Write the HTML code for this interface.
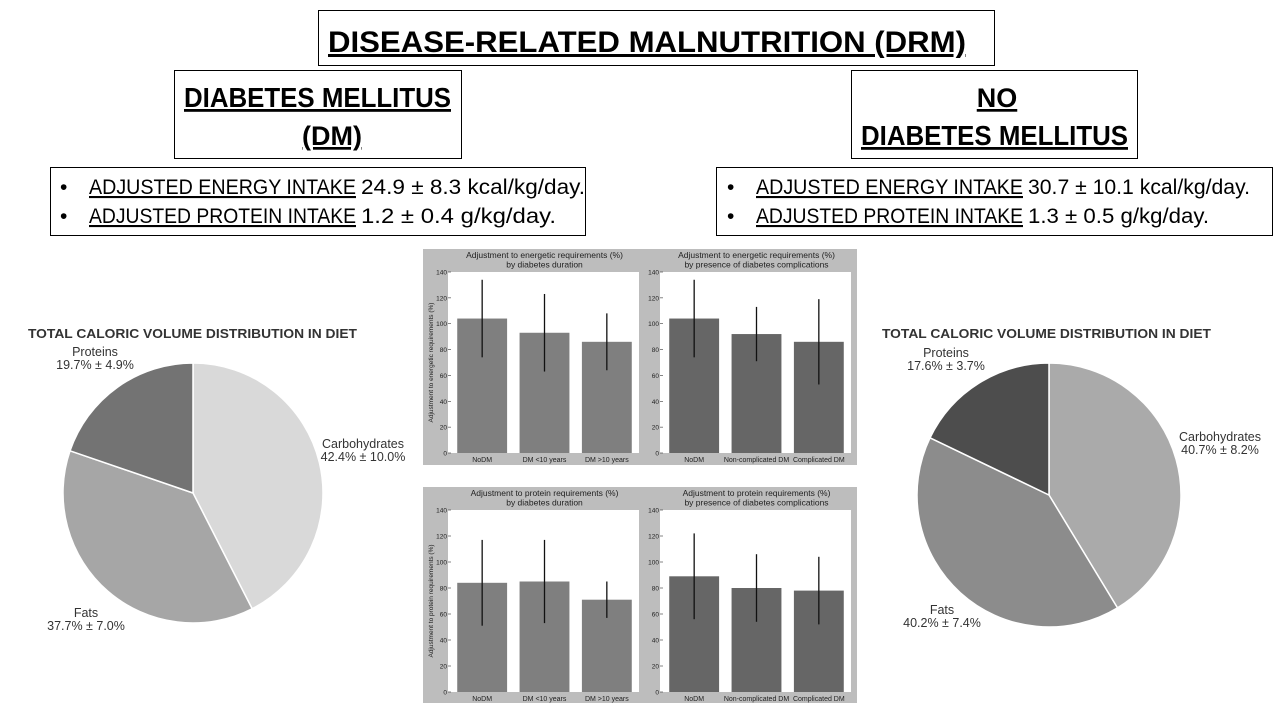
<!DOCTYPE html>
<html><head><meta charset="utf-8"><style>
body{margin:0;background:#fff;}
svg{display:block;font-family:"Liberation Sans",sans-serif;}
</style></head><body>
<svg id="s" width="1280" height="720" viewBox="0 0 1280 720">
<rect width="1280" height="720" fill="#fff"/>
<g>
<rect x="318.5" y="10.5" width="676" height="55" fill="none" stroke="#000"/>
<text x="328" y="52" font-size="30" font-weight="bold" textLength="638" lengthAdjust="spacingAndGlyphs" text-decoration="underline">DISEASE-RELATED  MALNUTRITION  (DRM)</text>
</g>
<g>
<rect x="174.5" y="70.5" width="287" height="88" fill="none" stroke="#000"/>
<text x="184" y="107" font-size="28" font-weight="bold" textLength="267" lengthAdjust="spacingAndGlyphs" text-decoration="underline">DIABETES MELLITUS</text>
<text x="332" y="145" font-size="27" font-weight="bold" text-anchor="middle" text-decoration="underline">(DM)</text>
</g>
<g>
<rect x="851.5" y="70.5" width="286" height="88" fill="none" stroke="#000"/>
<text x="997" y="107" font-size="27" font-weight="bold" text-anchor="middle" text-decoration="underline">NO</text>
<text x="861" y="145" font-size="28" font-weight="bold" textLength="267" lengthAdjust="spacingAndGlyphs" text-decoration="underline">DIABETES MELLITUS</text>
</g>
<g font-size="21">
<rect x="50.5" y="167.5" width="535" height="68" fill="none" stroke="#000"/>
<text x="60" y="194">•</text><text x="60" y="223">•</text>
<text x="89" y="194" textLength="267" lengthAdjust="spacingAndGlyphs" text-decoration="underline">ADJUSTED ENERGY INTAKE</text>
<text x="361" y="194" textLength="224" lengthAdjust="spacingAndGlyphs">24.9 ± 8.3 kcal/kg/day.</text>
<text x="89" y="223" textLength="267" lengthAdjust="spacingAndGlyphs" text-decoration="underline">ADJUSTED PROTEIN INTAKE</text>
<text x="361" y="223" textLength="195" lengthAdjust="spacingAndGlyphs">1.2 ± 0.4 g/kg/day.</text>
</g>
<g font-size="21">
<rect x="716.5" y="167.5" width="556" height="68" fill="none" stroke="#000"/>
<text x="727" y="194">•</text><text x="727" y="223">•</text>
<text x="756" y="194" textLength="267" lengthAdjust="spacingAndGlyphs" text-decoration="underline">ADJUSTED ENERGY INTAKE</text>
<text x="1028" y="194" textLength="222" lengthAdjust="spacingAndGlyphs">30.7 ± 10.1 kcal/kg/day.</text>
<text x="756" y="223" textLength="267" lengthAdjust="spacingAndGlyphs" text-decoration="underline">ADJUSTED PROTEIN INTAKE</text>
<text x="1028" y="223" textLength="181" lengthAdjust="spacingAndGlyphs">1.3 ± 0.5 g/kg/day.</text>
</g>
<g id="charts"></g>
</svg>
<script>
const pieLabels=["Carbohydrates","Fats","Proteins"];
const pieDM=[42.4,37.7,19.7];
const pieDMsd=[10.0,7.0,4.9];
const pieNoDM=[40.7,40.2,17.6];
const pieNoDMsd=[8.2,7.4,3.7];
const catsDur=["NoDM","DM <10 years","DM >10 years"];
const catsComp=["NoDM","Non-complicated DM","Complicated DM"];
const enDur=[104,93,86];
const enDurErr=[30,30,22];
const enComp=[104,92,86];
const enCompErr=[30,21,33];
const prDur=[84,85,71];
const prDurErr=[33,32,14];
const prComp=[89,80,78];
const prCompErr=[33,26,26];
const yTicks=[0,20,40,60,80,100,120,140];

const NS="http://www.w3.org/2000/svg";
const root=document.getElementById('charts');
function mk(tag,attrs,parent,txt){const e=document.createElementNS(NS,tag);for(const k in attrs)e.setAttribute(k,attrs[k]);if(txt!==undefined)e.textContent=txt;(parent||root).appendChild(e);return e;}

function pie(cx,cy,r,vals,sds,colors,name,title,tx0,labelPos){
  const g=mk('g',{});
  
  
  const t=mk('text',{x:tx0,y:338,'font-size':13,'font-weight':'bold',fill:'#333',textLength:329,lengthAdjust:'spacingAndGlyphs'},g,title);
  
  
  const tot=vals.reduce((a,b)=>a+b,0);
  let a=-Math.PI/2;
  vals.forEach((v,i)=>{
    const a2=a+v/tot*2*Math.PI;
    const x1=cx+r*Math.cos(a),y1=cy+r*Math.sin(a),x2=cx+r*Math.cos(a2),y2=cy+r*Math.sin(a2);
    const large=(a2-a)>Math.PI?1:0;
    const p=mk('path',{d:`M${cx},${cy}L${x1},${y1}A${r},${r} 0 ${large} 1 ${x2},${y2}Z`,fill:colors[i],stroke:'#fff','stroke-width':1.5},g);
    
    
    const lp=labelPos[i];
    const tx=mk('text',{x:lp[0],y:lp[1],'font-size':12.5,'text-anchor':'middle',fill:'#333'},g);
    
    
    mk('tspan',{x:lp[0],dy:0},tx,pieLabels[i]);
    mk('tspan',{x:lp[0],dy:13},tx,v.toFixed(1)+'% ± '+sds[i].toFixed(1)+'%');
    a=a2;
  });
}
pie(193,493,130,pieDM,pieDMsd,['#d9d9d9','#a6a6a6','#737373'],'pie-dm','TOTAL CALORIC VOLUME DISTRIBUTION IN DIET',28,[[363,448],[86,617],[95,356]]);
pie(1049,495,132,pieNoDM,pieNoDMsd,['#aaaaaa','#8c8c8c','#4d4d4d'],'pie-nodm','TOTAL CALORIC VOLUME DISTRIBUTION IN DIET',882,[[1220,441],[942,614],[946,357]]);

function panel(py,name){
  const g=mk('g',{});
  
  
  mk('rect',{x:423,y:py,width:434,height:216,fill:'#bdbdbd'},g);
  return g;
}
function barChart(g,x0,x1,yTop,yBot,cats,vals,errs,color,t1,t2,ylabel,name){
  const sg=mk('g',{},g);
  
  
  mk('rect',{x:x0-3,y:yTop,width:x1-x0+4,height:yBot-yTop,fill:'#fff'},sg);
  const ys=v=>yBot-(v/140)*(yBot-yTop);
  const step=(x1-x0)/cats.length;
  const xs=i=>x0+step*(i+0.5);
  const tt=mk('text',{x:(x0+x1)/2,y:yTop-14,'font-size':8.5,'text-anchor':'middle',fill:'#222'},sg);
  
  
  mk('tspan',{x:(x0+x1)/2,dy:0},tt,t1);
  mk('tspan',{x:(x0+x1)/2,dy:9.5},tt,t2);
  yTicks.forEach(v=>{
    mk('line',{x1:x0-3,x2:x0,y1:ys(v),y2:ys(v),stroke:'#333','stroke-width':0.6},sg);
    const l=mk('text',{x:x0-4,y:ys(v)+2.5,'font-size':6.5,'text-anchor':'end',fill:'#222'},sg,v);
    
    
  });
  if(ylabel){
    const yl=mk('text',{x:0,y:0,'font-size':6.5,'text-anchor':'middle',fill:'#222',transform:`translate(${x0-18},${(yTop+yBot)/2}) rotate(-90)`},sg,ylabel);
    
    
  }
  cats.forEach((c,i)=>{
    const bw=step*0.8;
    const b=mk('rect',{x:xs(i)-bw/2,y:ys(vals[i]),width:bw,height:yBot-ys(vals[i]),fill:color},sg);
    
    
    const e=mk('line',{x1:xs(i),x2:xs(i),y1:ys(vals[i]-errs[i]),y2:ys(vals[i]+errs[i]),stroke:'#111','stroke-width':1.3},sg);
    
    
    const xl=mk('text',{x:xs(i),y:yBot+9,'font-size':7,'text-anchor':'middle',fill:'#222'},sg,c);
    
    
  });
}
const g1=panel(249,'energy-panel');
barChart(g1,451,638,272,453,catsDur,enDur,enDurErr,'#7f7f7f','Adjustment to energetic requirements (%)','by diabetes duration','Adjustment to energetic requirements (%)','energy-by-duration');
barChart(g1,663,850,272,453,catsComp,enComp,enCompErr,'#666666','Adjustment to energetic requirements (%)','by presence of diabetes complications','','energy-by-complications');
const g2=panel(487,'protein-panel');
barChart(g2,451,638,510,692,catsDur,prDur,prDurErr,'#7f7f7f','Adjustment to protein requirements (%)','by diabetes duration','Adjustment to protein requirements (%)','protein-by-duration');
barChart(g2,663,850,510,692,catsComp,prComp,prCompErr,'#666666','Adjustment to protein requirements (%)','by presence of diabetes complications','','protein-by-complications');
</script>
</body></html>
